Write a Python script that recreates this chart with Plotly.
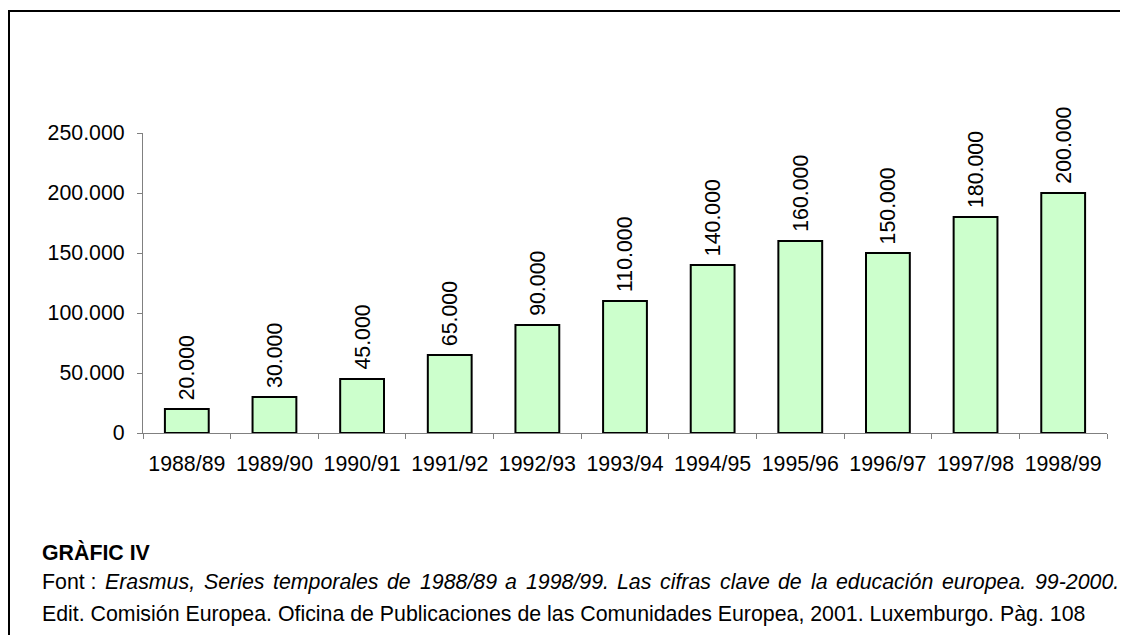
import plotly.graph_objects as go

categories = ["1988/89", "1989/90", "1990/91", "1991/92", "1992/93", "1993/94",
              "1994/95", "1995/96", "1996/97", "1997/98", "1998/99"]
values = [20000, 30000, 45000, 65000, 90000, 110000, 140000, 160000, 150000, 180000, 200000]
value_labels = ["20.000", "30.000", "45.000", "65.000", "90.000", "110.000",
                "140.000", "160.000", "150.000", "180.000", "200.000"]
y_ticks = [0, 50000, 100000, 150000, 200000, 250000]
y_tick_labels = ["0", "50.000", "100.000", "150.000", "200.000", "250.000"]

title_text = "<b>GRÀFIC IV</b>"
source_prefix = "Font :"
source_words = ["Erasmus,", "Series", "temporales", "de", "1988/89", "a", "1998/99.",
                "Las", "cifras", "clave", "de", "la", "educación", "europea.", "99-2000."]
source_line2 = ("Edit. Comisión Europea. Oficina de Publicaciones de las Comunidades "
                "Europea, 2001. Luxemburgo. Pàg. 108")

FONT = "Liberation Sans, Arial, sans-serif"
FS = 21.33

# page body margin offset (8px) is compensated; figure sized to avoid scrollbars
OFF = 8
W, H = 1128 - 2 * OFF, 643 - 2 * OFF
L, R, T, B = 135, 13, 125, 202
pw, ph = W - L - R, H - T - B

def px(x):
    return (x - OFF - L) / pw

def py(y):
    return (H - B - (y - OFF)) / ph

# Arial / Liberation Sans advance widths (per 1000 em) for justification layout
AW = {" ": 278, ":": 278, ",": 278, ".": 278, "/": 278, "-": 333,
      "0": 556, "1": 556, "2": 556, "8": 556, "9": 556,
      "E": 667, "F": 611, "L": 556, "S": 667,
      "a": 556, "c": 500, "d": 556, "e": 556, "f": 278, "i": 222, "l": 222,
      "m": 833, "n": 556, "o": 556, "ó": 556, "p": 556, "r": 333, "s": 500,
      "t": 278, "u": 556, "v": 500}

def tw(s):
    return sum(AW.get(ch, 556) for ch in s) * FS / 1000.0

fig = go.Figure()
fig.add_trace(go.Bar(
    x=categories, y=values,
    marker=dict(color="#CCFFCC", line=dict(color="black", width=2)),
    width=0.5,
    hoverinfo="skip",
))

annotations = []
for c, v, lab in zip(categories, values, value_labels):
    annotations.append(dict(x=c, y=v, xref="x", yref="y", text=lab, textangle=-90,
                            showarrow=False, yanchor="bottom", xanchor="center", yshift=7,
                            font=dict(family=FONT, size=FS, color="black")))

def add_text(x_abs, y_abs, text, anchor="left"):
    annotations.append(dict(x=px(x_abs), y=py(y_abs), xref="paper", yref="paper", text=text,
                            showarrow=False, xanchor=anchor, yanchor="middle", borderpad=0,
                            font=dict(family=FONT, size=FS, color="black")))

LEFT_X, RIGHT_X = 41, 1118
add_text(LEFT_X, 552, title_text)

# justified source line
units = [source_prefix] + source_words
widths = [tw(u) for u in units]
gap = (RIGHT_X - LEFT_X - sum(widths)) / (len(units) - 1)
xcur = LEFT_X
for i, u in enumerate(units):
    txt = u if i == 0 else "<i>" + u + "</i>"
    add_text(xcur, 582, txt)
    xcur += widths[i] + gap

add_text(LEFT_X, 614, source_line2)

fig.update_layout(
    width=W, height=H,
    margin=dict(l=L, r=R, t=T, b=B, pad=0),
    paper_bgcolor="white", plot_bgcolor="white",
    showlegend=False,
    font=dict(family=FONT, size=FS, color="black"),
    annotations=annotations,
    shapes=[dict(type="rect", xref="paper", yref="paper",
                 x0=px(9), x1=px(1160), y0=py(700), y1=py(11),
                 line=dict(color="black", width=2), layer="above")],
    xaxis=dict(showline=True, linecolor="#808080", linewidth=1,
               ticks="outside", tickson="boundaries", ticklen=5, tickcolor="#808080",
               showgrid=False, zeroline=False, ticklabelstandoff=11,
               tickfont=dict(family=FONT, size=FS, color="black")),
    yaxis=dict(range=[0, 250000], tickvals=y_ticks, ticktext=y_tick_labels,
               showline=True, linecolor="#808080", linewidth=1,
               ticks="outside", ticklen=5, tickcolor="#808080",
               showgrid=False, zeroline=False, ticklabelstandoff=8,
               tickfont=dict(family=FONT, size=FS, color="black")),
)

fig.write_html("out.html")
